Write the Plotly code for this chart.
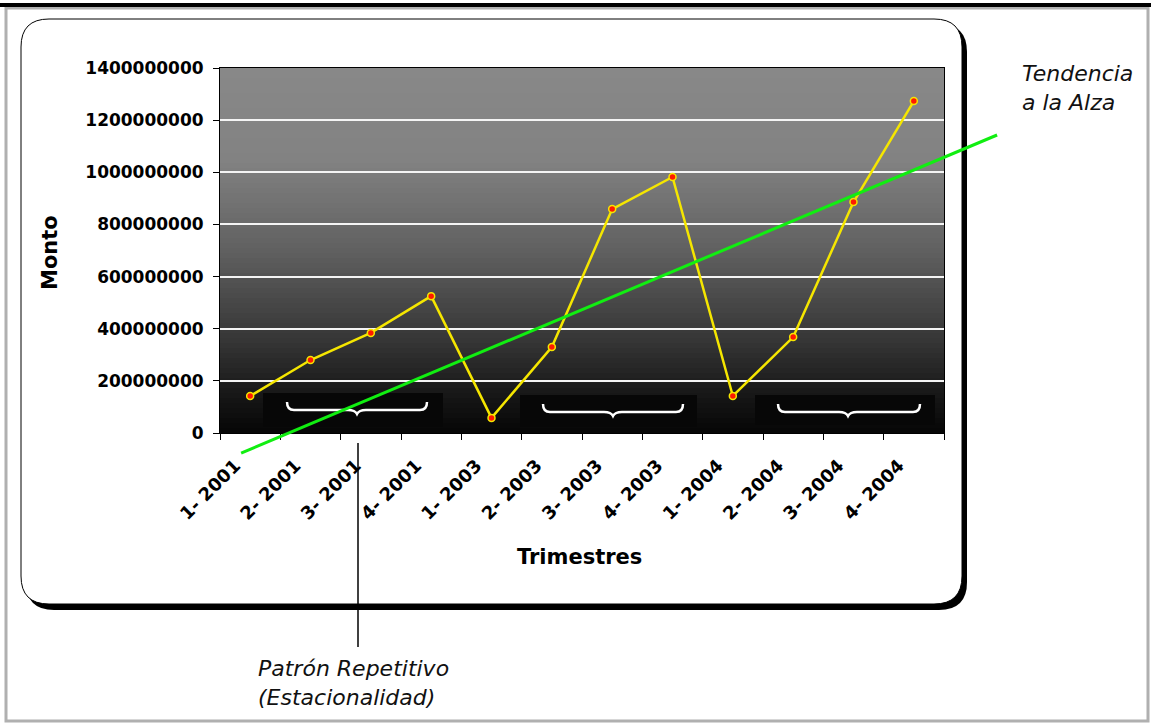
import plotly.graph_objects as go

# ---------------- data ----------------
trimestres = ["1- 2001", "2- 2001", "3- 2001", "4- 2001",
              "1- 2003", "2- 2003", "3- 2003", "4- 2003",
              "1- 2004", "2- 2004", "3- 2004", "4- 2004"]
monto = [142e6, 280e6, 384e6, 525e6,
         58e6, 330e6, 859e6, 982e6,
         142e6, 368e6, 886e6, 1273e6]
y_ticks = [0, 200e6, 400e6, 600e6, 800e6, 1000e6, 1200e6, 1400e6]
# hand-drawn trend line (category index, value)
trend_x = [-0.15, 12.38]
trend_y = [-77e6, 1143e6]

# ---------------- layout geometry ----------------
W, H = 1151, 724
PL, PR, PT, PB = 220, 944, 68, 433   # plot area in pixels


def px(x):
    return x / W


def py(y):
    return 1 - y / H


xr = [-0.5, len(trimestres) - 0.5]
yr = [0, 1400e6]
ux = (PR - PL) / (xr[1] - xr[0])
uy = (PB - PT) / (yr[1] - yr[0])
x2r = [xr[0] - PL / ux, xr[1] + (W - PR) / ux]
y2r = [yr[0] - (H - PB) / uy, yr[1] + PT / uy]

fig = go.Figure()

fig.add_trace(go.Scatter(
    x=trimestres, y=monto, mode="lines+markers",
    line=dict(color="#f5e600", width=2.5),
    marker=dict(color="#ff1a00", size=7, line=dict(color="#f5e600", width=1.5)),
    showlegend=False, hoverinfo="x+y"))

fig.add_trace(go.Scatter(
    x=trend_x, y=trend_y, mode="lines", xaxis="x2", yaxis="y2",
    line=dict(color="#11ee11", width=3), showlegend=False, hoverinfo="skip"))

shapes = []


def rrect(x0, y0, x1, y1, r):
    return (f"M {px(x0+r)},{py(y0)} L {px(x1-r)},{py(y0)} Q {px(x1)},{py(y0)} {px(x1)},{py(y0+r)} "
            f"L {px(x1)},{py(y1-r)} Q {px(x1)},{py(y1)} {px(x1-r)},{py(y1)} "
            f"L {px(x0+r)},{py(y1)} Q {px(x0)},{py(y1)} {px(x0)},{py(y1-r)} "
            f"L {px(x0)},{py(y0+r)} Q {px(x0)},{py(y0)} {px(x0+r)},{py(y0)} Z")


# outer frame
shapes.append(dict(type="rect", xref="paper", yref="paper", x0=px(6), x1=px(1148), y0=py(8), y1=py(721),
                   line=dict(color="#b0b0b0", width=3), fillcolor="rgba(0,0,0,0)", layer="below"))
shapes.append(dict(type="rect", xref="paper", yref="paper", x0=0, x1=1, y0=py(3), y1=py(7),
                   line=dict(width=0), fillcolor="black", layer="below"))
# rounded chart box with shadow
shapes.append(dict(type="path", xref="paper", yref="paper", path=rrect(26, 24, 967, 610, 28),
                   fillcolor="black", line=dict(width=0), layer="below"))
shapes.append(dict(type="path", xref="paper", yref="paper", path=rrect(21, 19, 962, 604, 28),
                   fillcolor="white", line=dict(color="black", width=1), layer="below"))

# gradient plot background
stops = [(0.0, 0x88), (0.25, 0x82), (0.5, 0x60), (0.75, 0x35), (0.9, 0x16), (1.0, 0x06)]


def grey_at(t):
    for (t0, c0), (t1, c1) in zip(stops[:-1], stops[1:]):
        if t <= t1:
            return c0 + (c1 - c0) * (t - t0) / (t1 - t0)
    return stops[-1][1]


N = 73
bh = (PB - PT) / N
for i in range(N):
    y0 = PT + i * bh
    g = int(round(grey_at((i + 0.5) / N)))
    shapes.append(dict(type="rect", xref="paper", yref="paper", x0=px(PL), x1=px(PR),
                       y0=py(y0), y1=py(y0 + bh + 0.6), line=dict(width=0),
                       fillcolor=f"rgb({g},{g},{g})", layer="below"))

# seasonal brackets
brackets = [(263, 443, 393, 427, 287, 427, 357),
            (520, 697, 395, 427, 543, 683, 613),
            (755, 935, 395, 425, 778, 920, 848)]
for bx0, bx1, by0, by1, l, r, c in brackets:
    shapes.append(dict(type="rect", xref="paper", yref="paper", x0=px(bx0), x1=px(bx1),
                       y0=py(by0), y1=py(by1), line=dict(width=0), fillcolor="#070707", layer="below"))
    top, mid, dip = by0 + 9, by0 + 17, by0 + 21
    path = (f"M {px(l)},{py(top)} Q {px(l)},{py(mid)} {px(l+7)},{py(mid)} "
            f"L {px(c-9)},{py(mid)} Q {px(c-2)},{py(mid)} {px(c)},{py(dip)} "
            f"Q {px(c+2)},{py(mid)} {px(c+9)},{py(mid)} "
            f"L {px(r-7)},{py(mid)} Q {px(r)},{py(mid)} {px(r)},{py(top)}")
    shapes.append(dict(type="path", xref="paper", yref="paper", path=path,
                       line=dict(color="white", width=2.5), layer="below"))

# pointer line for the seasonal pattern note
shapes.append(dict(type="line", xref="paper", yref="paper", x0=px(358), x1=px(358),
                   y0=py(443), y1=py(647), line=dict(color="black", width=1.5)))

annotations = [
    dict(text="Monto", xref="paper", yref="paper", x=px(50), y=py(253), textangle=-90,
         xanchor="center", yanchor="middle", showarrow=False,
         font=dict(family="DejaVu Sans", size=21, color="black", weight="bold")),
    dict(text="Trimestres", xref="paper", yref="paper", x=px(579), y=py(557),
         xanchor="center", yanchor="middle", showarrow=False,
         font=dict(family="DejaVu Sans", size=21, color="black", weight="bold")),
    dict(text="Tendencia<br>a la Alza", xref="paper", yref="paper", x=px(1020), y=py(88),
         xanchor="left", yanchor="middle", align="left", showarrow=False,
         font=dict(family="DejaVu Sans", size=22, color="#111111", style="italic")),
    dict(text="Patrón Repetitivo<br>(Estacionalidad)", xref="paper", yref="paper", x=px(256), y=py(683),
         xanchor="left", yanchor="middle", align="left", showarrow=False,
         font=dict(family="DejaVu Sans", size=22, color="#111111", style="italic")),
]

fig.update_layout(
    width=W, height=H, margin=dict(l=0, r=0, t=0, b=0),
    paper_bgcolor="white", plot_bgcolor="rgba(0,0,0,0)",
    shapes=shapes, annotations=annotations,
    xaxis=dict(domain=[px(PL), px(PR)], type="category", range=xr, tickson="boundaries",
               ticks="outside", ticklen=6, tickcolor="black", tickangle=-45,
               showline=True, linecolor="black", linewidth=1, mirror=True,
               showgrid=False, zeroline=False, automargin=False, ticklabelstandoff=14,
               ticklabelshift=-15,
               tickfont=dict(family="DejaVu Sans", size=18, color="black", weight="bold")),
    yaxis=dict(domain=[py(PB), py(PT)], range=yr, tickvals=y_ticks, tickformat="d",
               ticks="outside", ticklen=6, tickcolor="black",
               showline=True, linecolor="black", linewidth=1, mirror=True,
               showgrid=True, gridcolor="#f4f4f4", gridwidth=2, zeroline=False,
               automargin=False, ticklabelstandoff=6,
               tickfont=dict(family="DejaVu Sans", size=17, color="black", weight="bold")),
    xaxis2=dict(domain=[0, 1], range=x2r, anchor="y2", visible=False, fixedrange=True),
    yaxis2=dict(domain=[0, 1], range=y2r, anchor="x2", visible=False, fixedrange=True),
)

fig.write_html("out.html", config={"displayModeBar": False},
               post_script="document.body.style.margin='0';document.body.style.overflow='hidden';")
